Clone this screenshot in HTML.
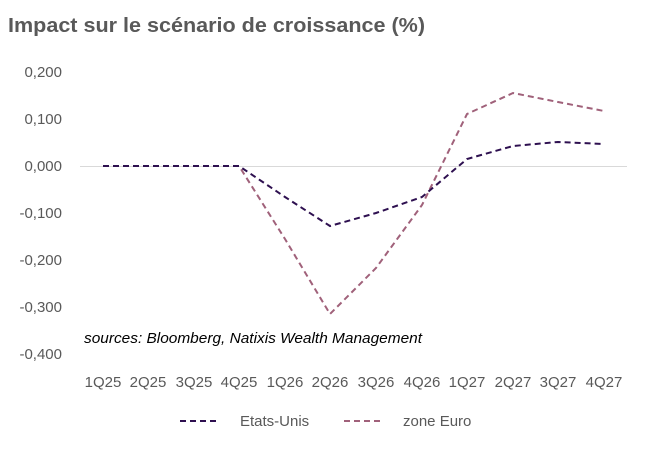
<!DOCTYPE html>
<html><head><meta charset="utf-8"><style>
body{margin:0;background:#fff;}
svg{display:block;font-family:"Liberation Sans",Arial,sans-serif;}
</style></head><body>
<svg width="650" height="451" viewBox="0 0 650 451" xmlns="http://www.w3.org/2000/svg">
<rect width="650" height="451" fill="#fff"/>
<text x="8" y="32" font-size="20" font-weight="bold" fill="#595959" textLength="417" lengthAdjust="spacingAndGlyphs">Impact sur le scénario de croissance  (%)</text>
<g font-size="15" fill="#595959" text-anchor="end">
<text x="62" y="77">0,200</text>
<text x="62" y="124">0,100</text>
<text x="62" y="171">0,000</text>
<text x="62" y="218">-0,100</text>
<text x="62" y="265">-0,200</text>
<text x="62" y="312">-0,300</text>
<text x="62" y="359">-0,400</text>
</g>
<line x1="80" y1="166.5" x2="627" y2="166.5" stroke="#d9d9d9" stroke-width="1"/>
<g font-size="15" fill="#595959" text-anchor="middle">
<text x="103" y="387">1Q25</text><text x="148" y="387">2Q25</text><text x="194" y="387">3Q25</text><text x="239" y="387">4Q25</text>
<text x="285" y="387">1Q26</text><text x="330" y="387">2Q26</text><text x="376" y="387">3Q26</text><text x="422" y="387">4Q26</text>
<text x="467" y="387">1Q27</text><text x="513" y="387">2Q27</text><text x="558" y="387">3Q27</text><text x="604" y="387">4Q27</text>
</g>
<polyline fill="none" stroke="#a0617a" stroke-width="2" stroke-dasharray="6,4" points="103,166 148,166 194,166 239,166 285,239 330,314 376,268 422,205 467,114 513,93 558,102 604,111"/>
<polyline fill="none" stroke="#2e1050" stroke-width="2" stroke-dasharray="6,4" points="103,166 148,166 194,166 239,166 285,197 330,226 376,213 422,197 467,159 513,146 558,142 604,144"/>
<text x="84" y="343" font-size="15" font-style="italic" fill="#000" textLength="338" lengthAdjust="spacingAndGlyphs">sources: Bloomberg, Natixis Wealth Management</text>
<line x1="180" y1="421" x2="216" y2="421" stroke="#2e1050" stroke-width="2" stroke-dasharray="6,4"/>
<text x="240" y="426" font-size="15" fill="#595959">Etats-Unis</text>
<line x1="344" y1="421" x2="380" y2="421" stroke="#a0617a" stroke-width="2" stroke-dasharray="6,4"/>
<text x="403" y="426" font-size="15" fill="#595959">zone Euro</text>
</svg>
</body></html>
